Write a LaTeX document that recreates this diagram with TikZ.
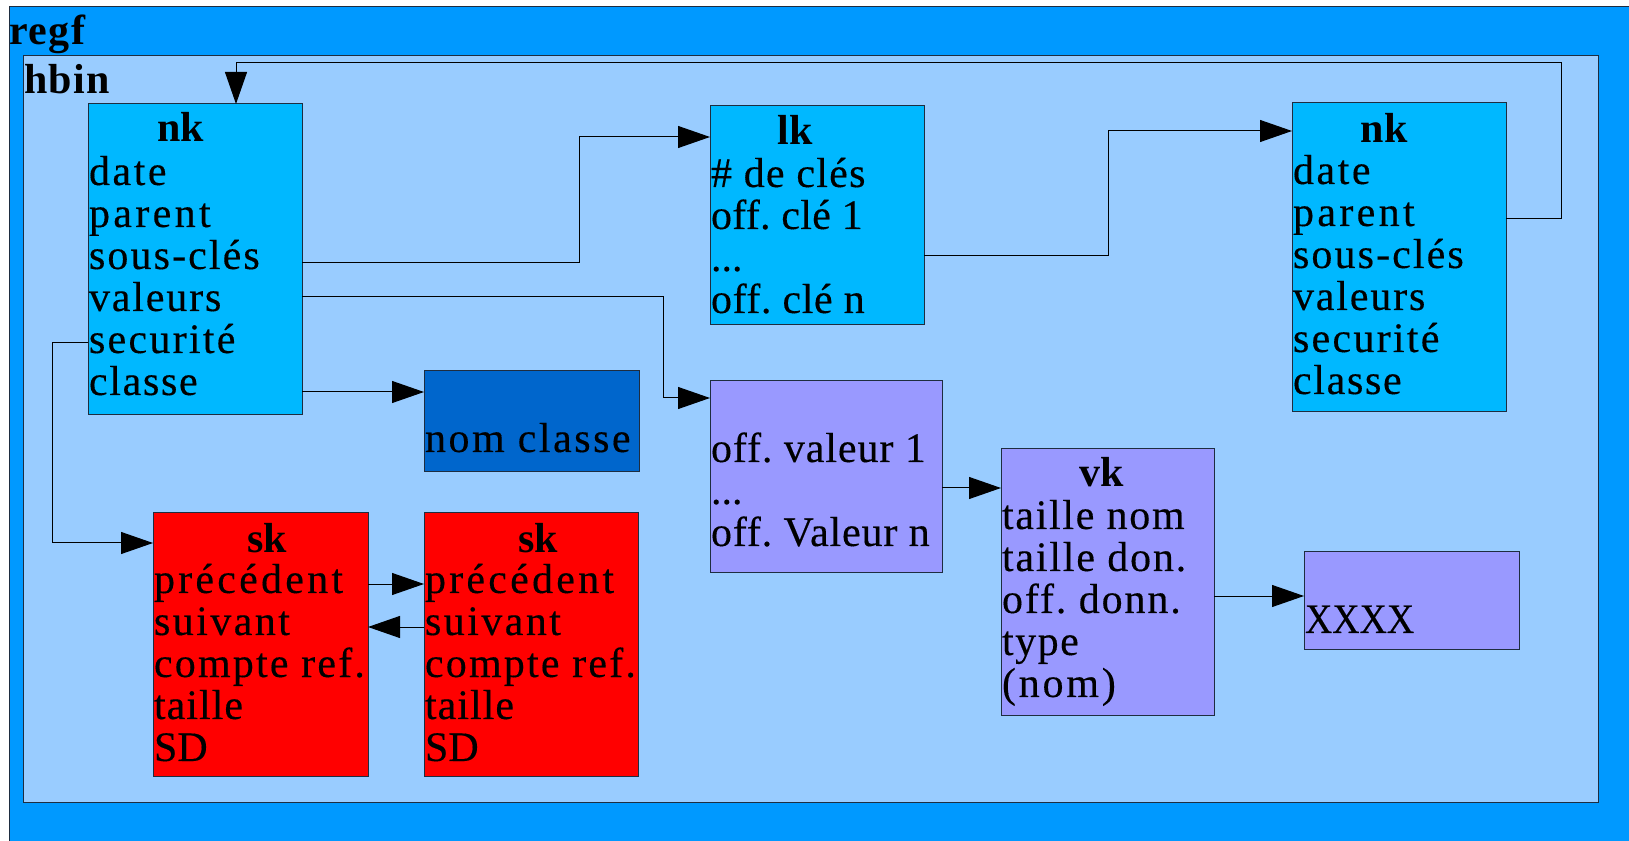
\documentclass[tikz,border=0pt]{standalone}
\usepackage{fontspec}
\setmainfont{LiberationSerif}[Extension=.ttf, UprightFont=*-Regular, BoldFont=*-Bold, ItalicFont=*-Italic, BoldItalicFont=*-BoldItalic, UprightFeatures={FakeBold=0.3}]
\usetikzlibrary{arrows.meta,calc}
\frenchspacing

\definecolor{regfblue}{HTML}{0099FF}
\definecolor{hbinblue}{HTML}{99CCFF}
\definecolor{nkblue}{HTML}{00B8FF}
\definecolor{classblue}{HTML}{0066CC}
\definecolor{vlilac}{HTML}{9999FF}
\definecolor{skred}{HTML}{FF0000}
\definecolor{edge}{HTML}{1E2D40}

% letter-spaced word: \trk{percent}{text}
\newcommand\trk[2]{{\addfontfeature{LetterSpace=#1}#2}}
% stack of field lines, one every 42px
\newcommand\fieldlist[1]{\vtop{\baselineskip=31.5pt\lineskiplimit=-100pt\lineskip=0pt #1}}

\tikzset{
  frame/.style={draw=edge, line width=0.75pt, inner sep=0pt, outer sep=0pt, anchor=north west},
  rec/.style={draw=edge, line width=0.75pt, inner sep=0pt, outer sep=0pt, anchor=north west},
  txt/.style={inner sep=0pt, outer sep=0pt, anchor=base west},
  ttl/.style={inner sep=0pt, outer sep=0pt, anchor=base, font=\fontsize{31.5pt}{31.5pt}\selectfont\bfseries},
  conn/.style={draw=black, line width=0.75pt, -{Triangle[length=24pt,width=16.5pt]}}
}

\begin{document}
\begin{tikzpicture}[x=0.75pt, y=-0.75pt, font=\fontsize{31.5pt}{31.5pt}\selectfont]
\useasboundingbox (0,0) rectangle (1629,841);
\clip (0,0) rectangle (1629,841);
\fill[white] (0,0) rectangle (1629,841);

% registry file and hive bin frames
\node[frame, fill=regfblue, minimum width=1631*0.75pt, minimum height=843*0.75pt] (regf) at (9,7) {};
\node[txt] (regf-label) at (9,45) {\bfseries\trk{4}{regf}};
\node[frame, fill=hbinblue, minimum width=1575*0.75pt, minimum height=746*0.75pt] (hbin) at (23,56) {};
\node[txt] (hbin-label) at (24,94) {\bfseries\trk{3.6}{hbin}};

% key node
\node[rec, fill=nkblue, minimum width=214*0.75pt, minimum height=311*0.75pt] (nk1) at (88,104) {};
\node[ttl] (nk1-title) at (181,142) {nk};
\node[txt] (nk1-fields) at (89,185) {\fieldlist{%
  \hbox{\trk{6}{date}}\hbox{\trk{8}{parent}}\hbox{\trk{5}{sous-clés}}%
  \hbox{\trk{4.4}{valeurs}}\hbox{\trk{5.4}{securité}}\hbox{\trk{4}{classe}}}};

% subkey list
\node[rec, fill=nkblue, minimum width=214*0.75pt, minimum height=219*0.75pt] (lk) at (710,106) {};
\node[ttl] (lk-title) at (795,145) {lk};
\node[txt] (lk-fields) at (711,187) {\fieldlist{%
  \hbox{\trk{3}{\# de clés}}\hbox{\trk{0.7}{off. clé 1}}\hbox{...}\hbox{\trk{1.4}{off. clé n}}}};

% child key node
\node[rec, fill=nkblue, minimum width=214*0.75pt, minimum height=309*0.75pt] (nk2) at (1292,103) {};
\node[ttl] (nk2-title) at (1384,143) {nk};
\node[txt] (nk2-fields) at (1293,184) {\fieldlist{%
  \hbox{\trk{6}{date}}\hbox{\trk{8}{parent}}\hbox{\trk{5}{sous-clés}}%
  \hbox{\trk{4.4}{valeurs}}\hbox{\trk{5.4}{securité}}\hbox{\trk{4}{classe}}}};

% class name
\node[rec, fill=classblue, minimum width=215*0.75pt, minimum height=101*0.75pt] (nomcl) at (424,371) {};
\node[txt] (nomcl-text) at (425,452) {\trk{6}{nom classe}};

% value list
\node[rec, fill=vlilac, minimum width=232*0.75pt, minimum height=192*0.75pt] (vals) at (710,381) {};
\node[txt] (vals-fields) at (711,462) {\fieldlist{%
  \hbox{\trk{2.2}{off. valeur 1}}\hbox{...}\hbox{\trk{2}{off. Valeur n}}}};

% value key
\node[rec, fill=vlilac, minimum width=213*0.75pt, minimum height=266*0.75pt] (vk) at (1001,449) {};
\node[ttl] (vk-title) at (1102,487) {vk};
\node[txt] (vk-fields) at (1002,529) {\fieldlist{%
  \hbox{\trk{4}{taille nom}}\hbox{\trk{4.3}{taille don.}}\hbox{\trk{4.5}{off. donn.}}%
  \hbox{\trk{3.6}{type}}\hbox{\trk{6.7}{(nom)}}}};

% value data
\node[rec, fill=vlilac, minimum width=215*0.75pt, minimum height=97*0.75pt] (xx) at (1304,552) {};
\node[txt] (xx-text) at (1305,633) {\scalebox{0.9}[1]{XXXX}};

% security keys
\node[rec, fill=skred, minimum width=215*0.75pt, minimum height=263*0.75pt] (sk1) at (153,513) {};
\node[ttl] (sk1-title) at (267,552) {sk};
\node[txt] (sk1-fields) at (154,593) {\fieldlist{%
  \hbox{\trk{7.7}{précédent}}\hbox{\trk{5.8}{suivant}}\hbox{\trk{5.2}{compte ref.}}%
  \hbox{\trk{2.4}{taille}}\hbox{SD}}};

\node[rec, fill=skred, minimum width=214*0.75pt, minimum height=263*0.75pt] (sk2) at (424,513) {};
\node[ttl] (sk2-title) at (538,552) {sk};
\node[txt] (sk2-fields) at (425,593) {\fieldlist{%
  \hbox{\trk{7.7}{précédent}}\hbox{\trk{5.8}{suivant}}\hbox{\trk{5.2}{compte ref.}}%
  \hbox{\trk{2.4}{taille}}\hbox{SD}}};

% links
\draw[conn] ($(nk1.north east)+(0,159)$) -| ($(lk.north west)+(-131,31)$) -- ($(lk.north west)+(0,31)$);
\draw[conn] ($(nk1.north east)+(0,193)$) -| ($(vals.north west)+(-47,17)$) -- ($(vals.north west)+(0,17)$);
\draw[conn] ($(nk1.north east)+(0,288)$) -- ($(nomcl.north west)+(0,21)$);
\draw[conn] ($(nk1.north west)+(0,239)$) -| ($(sk1.north west)+(-101,30)$) -- ($(sk1.north west)+(0,30)$);
\draw[conn] ($(lk.north east)+(0,150)$) -| ($(nk2.north west)+(-184,28)$) -- ($(nk2.north west)+(0,28)$);
\draw[conn] ($(nk2.north east)+(0,116)$) -| ($(nk2.north east)+(55,-40)$) -| ($(nk1.north west)+(148,0)$);
\draw[conn] ($(vals.north east)+(0,107)$) -- ($(vk.north west)+(0,39)$);
\draw[conn] ($(vk.north east)+(0,147)$) -- ($(xx.north west)+(0,44)$);
\draw[conn] ($(sk1.north east)+(0,71)$) -- ($(sk2.north west)+(0,71)$);
\draw[conn] ($(sk2.north west)+(0,114)$) -- ($(sk1.north east)+(0,114)$);
\end{tikzpicture}
\end{document}
